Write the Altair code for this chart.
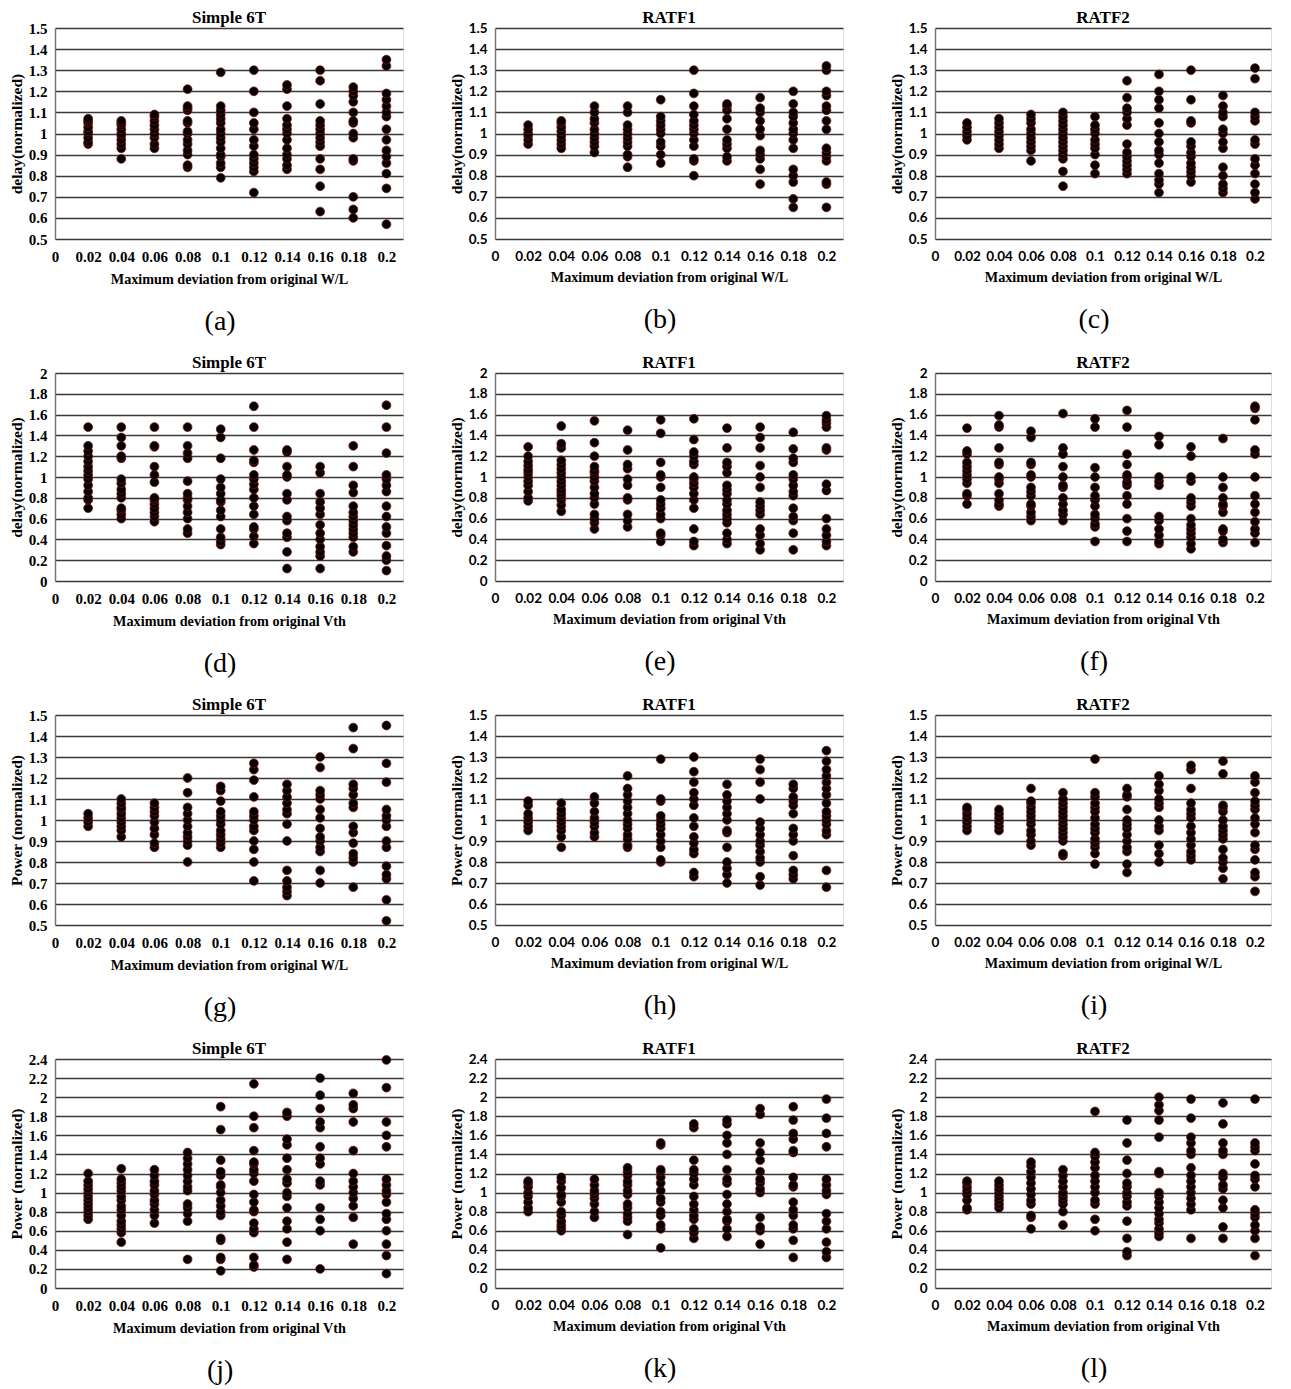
import altair as alt
import pandas as pd

X_VALUES = [0.02, 0.04, 0.06, 0.08, 0.1, 0.12, 0.14, 0.16, 0.18, 0.2]
X_TICKS = [0, 0.02, 0.04, 0.06, 0.08, 0.1, 0.12, 0.14, 0.16, 0.18, 0.2]
Y_TICKS_WL = [0.5, 0.6, 0.7, 0.8, 0.9, 1.0, 1.1, 1.2, 1.3, 1.4, 1.5]
Y_TICKS_VTH_DELAY = [0, 0.2, 0.4, 0.6, 0.8, 1.0, 1.2, 1.4, 1.6, 1.8, 2.0]
Y_TICKS_VTH_POWER = [0, 0.2, 0.4, 0.6, 0.8, 1.0, 1.2, 1.4, 1.6, 1.8, 2.0, 2.2, 2.4]

# (a) delay vs W/L, Simple 6T
panel_a = [
    [0.95, 0.96, 0.98, 1.0, 1.01, 1.03, 1.05, 1.06, 1.07],
    [0.88, 0.93, 0.95, 0.97, 0.99, 1.0, 1.02, 1.04, 1.05, 1.06],
    [0.93, 0.95, 0.98, 1.0, 1.02, 1.04, 1.06, 1.08, 1.09],
    [0.84, 0.85, 0.90, 0.92, 0.95, 0.97, 1.0, 1.01, 1.05, 1.06, 1.11, 1.12, 1.13, 1.21],
    [0.79, 0.84, 0.86, 0.89, 0.90, 0.93, 0.96, 0.98, 1.0, 1.02, 1.05, 1.07, 1.09, 1.11, 1.13, 1.29],
    [0.72, 0.82, 0.84, 0.86, 0.88, 0.90, 0.94, 0.97, 1.02, 1.05, 1.10, 1.20, 1.30],
    [0.83, 0.85, 0.88, 0.90, 0.93, 0.97, 1.0, 1.02, 1.04, 1.07, 1.13, 1.21, 1.23],
    [0.63, 0.75, 0.83, 0.88, 0.94, 0.96, 0.98, 1.0, 1.02, 1.04, 1.06, 1.14, 1.25, 1.30],
    [0.60, 0.64, 0.70, 0.87, 0.88, 0.98, 1.0, 1.05, 1.06, 1.10, 1.15, 1.18, 1.20, 1.22],
    [0.57, 0.74, 0.81, 0.86, 0.89, 0.92, 0.97, 1.02, 1.08, 1.10, 1.13, 1.16, 1.19, 1.32, 1.35],
]
# (b) delay vs W/L, RATF1
panel_b = [
    [0.95, 0.97, 0.99, 1.0, 1.02, 1.04],
    [0.93, 0.95, 0.97, 0.99, 1.01, 1.03, 1.05, 1.06],
    [0.91, 0.94, 0.96, 0.98, 1.0, 1.02, 1.05, 1.07, 1.10, 1.13],
    [0.84, 0.89, 0.90, 0.94, 0.96, 0.98, 1.0, 1.02, 1.04, 1.10, 1.13],
    [0.86, 0.90, 0.94, 0.96, 1.0, 1.02, 1.04, 1.06, 1.08, 1.16],
    [0.80, 0.87, 0.88, 0.94, 0.97, 1.0, 1.02, 1.04, 1.06, 1.09, 1.13, 1.19, 1.30],
    [0.87, 0.89, 0.93, 0.95, 0.97, 1.02, 1.07, 1.11, 1.13, 1.14],
    [0.76, 0.83, 0.88, 0.90, 0.92, 0.99, 1.02, 1.06, 1.10, 1.12, 1.17],
    [0.65, 0.69, 0.77, 0.80, 0.83, 0.93, 0.97, 1.0, 1.02, 1.05, 1.08, 1.10, 1.14, 1.20],
    [0.65, 0.76, 0.77, 0.87, 0.89, 0.91, 0.93, 1.02, 1.06, 1.11, 1.13, 1.18, 1.20, 1.30, 1.32],
]
# (c) delay vs W/L, RATF2
panel_c = [
    [0.97, 0.99, 1.01, 1.03, 1.05],
    [0.93, 0.95, 0.97, 0.99, 1.01, 1.03, 1.05, 1.07],
    [0.87, 0.92, 0.94, 0.96, 0.98, 1.0, 1.02, 1.05, 1.07, 1.09],
    [0.75, 0.82, 0.88, 0.90, 0.92, 0.94, 0.96, 0.98, 1.0, 1.02, 1.04, 1.06, 1.08, 1.10],
    [0.81, 0.85, 0.90, 0.93, 0.95, 0.97, 1.0, 1.02, 1.04, 1.08],
    [0.81, 0.83, 0.85, 0.87, 0.89, 0.91, 0.95, 1.04, 1.07, 1.10, 1.12, 1.17, 1.25],
    [0.72, 0.76, 0.78, 0.81, 0.86, 0.90, 0.92, 0.96, 1.0, 1.05, 1.12, 1.16, 1.20, 1.28],
    [0.77, 0.80, 0.82, 0.84, 0.86, 0.89, 0.91, 0.94, 0.96, 1.05, 1.06, 1.16, 1.30],
    [0.72, 0.74, 0.76, 0.80, 0.84, 0.93, 0.96, 1.0, 1.02, 1.08, 1.10, 1.13, 1.18],
    [0.69, 0.72, 0.76, 0.81, 0.85, 0.88, 0.95, 0.97, 1.06, 1.08, 1.10, 1.26, 1.31],
]
# (d) delay vs Vth, Simple 6T
panel_d = [
    [0.70, 0.78, 0.80, 0.86, 0.92, 0.98, 1.02, 1.06, 1.10, 1.15, 1.20, 1.25, 1.30, 1.48],
    [0.60, 0.64, 0.68, 0.70, 0.80, 0.84, 0.88, 0.94, 0.98, 1.18, 1.20, 1.30, 1.38, 1.48],
    [0.57, 0.62, 0.66, 0.70, 0.74, 0.78, 0.80, 0.95, 1.02, 1.10, 1.29, 1.30, 1.48],
    [0.46, 0.50, 0.60, 0.66, 0.72, 0.78, 0.80, 0.84, 0.96, 1.18, 1.23, 1.30, 1.48],
    [0.35, 0.38, 0.42, 0.50, 0.62, 0.68, 0.76, 0.78, 0.84, 0.90, 0.98, 1.18, 1.38, 1.46],
    [0.36, 0.43, 0.50, 0.52, 0.64, 0.72, 0.80, 0.88, 0.93, 0.98, 1.02, 1.14, 1.16, 1.26, 1.48, 1.68],
    [0.12, 0.28, 0.42, 0.46, 0.58, 0.62, 0.78, 0.84, 1.00, 1.02, 1.10, 1.24, 1.26],
    [0.12, 0.24, 0.28, 0.33, 0.40, 0.46, 0.54, 0.64, 0.70, 0.76, 0.84, 1.04, 1.10],
    [0.28, 0.33, 0.42, 0.46, 0.50, 0.54, 0.58, 0.62, 0.66, 0.72, 0.85, 0.92, 1.10, 1.30],
    [0.10, 0.20, 0.24, 0.34, 0.46, 0.52, 0.62, 0.72, 0.86, 0.92, 0.98, 1.02, 1.23, 1.48, 1.69],
]
# (e) delay vs Vth, RATF1
panel_e = [
    [0.77, 0.80, 0.86, 0.92, 0.96, 1.0, 1.04, 1.07, 1.11, 1.15, 1.20, 1.29],
    [0.67, 0.73, 0.78, 0.82, 0.85, 0.88, 0.92, 0.96, 1.0, 1.04, 1.08, 1.12, 1.16, 1.28, 1.32, 1.49],
    [0.50, 0.56, 0.60, 0.64, 0.74, 0.80, 0.84, 0.90, 0.96, 1.00, 1.04, 1.06, 1.10, 1.20, 1.33, 1.54],
    [0.52, 0.58, 0.64, 0.78, 0.80, 0.92, 0.98, 1.08, 1.12, 1.26, 1.45],
    [0.38, 0.44, 0.46, 0.60, 0.64, 0.70, 0.74, 0.78, 0.90, 1.0, 1.02, 1.14, 1.42, 1.55],
    [0.34, 0.38, 0.50, 0.70, 0.78, 0.84, 0.90, 0.94, 0.98, 1.0, 1.12, 1.15, 1.20, 1.24, 1.36, 1.56],
    [0.36, 0.40, 0.46, 0.56, 0.60, 0.64, 0.68, 0.74, 0.78, 0.84, 0.88, 0.92, 1.04, 1.10, 1.14, 1.28, 1.47],
    [0.30, 0.36, 0.44, 0.50, 0.64, 0.68, 0.72, 0.76, 0.90, 1.0, 1.11, 1.28, 1.38, 1.48],
    [0.30, 0.46, 0.58, 0.62, 0.70, 0.82, 0.86, 0.92, 0.98, 1.02, 1.14, 1.18, 1.27, 1.43],
    [0.34, 0.38, 0.44, 0.50, 0.60, 0.87, 0.93, 1.26, 1.28, 1.48, 1.52, 1.55, 1.59],
]
# (f) delay vs Vth, RATF2
panel_f = [
    [0.74, 0.82, 0.84, 0.94, 0.98, 1.02, 1.06, 1.10, 1.14, 1.22, 1.25, 1.47],
    [0.72, 0.74, 0.78, 0.84, 0.94, 0.98, 1.0, 1.12, 1.14, 1.28, 1.48, 1.50, 1.59],
    [0.58, 0.62, 0.66, 0.72, 0.74, 0.82, 0.86, 0.90, 1.0, 1.02, 1.12, 1.14, 1.38, 1.44],
    [0.58, 0.64, 0.68, 0.74, 0.80, 0.90, 0.92, 1.0, 1.10, 1.22, 1.28, 1.61],
    [0.38, 0.52, 0.55, 0.60, 0.64, 0.72, 0.78, 0.82, 0.90, 1.0, 1.09, 1.48, 1.56],
    [0.38, 0.48, 0.60, 0.74, 0.82, 0.92, 0.95, 1.0, 1.02, 1.12, 1.22, 1.48, 1.64],
    [0.36, 0.38, 0.44, 0.50, 0.58, 0.62, 0.92, 0.96, 1.0, 1.31, 1.39],
    [0.31, 0.36, 0.42, 0.46, 0.50, 0.54, 0.60, 0.72, 0.76, 0.80, 0.96, 1.0, 1.20, 1.29],
    [0.37, 0.40, 0.48, 0.50, 0.66, 0.72, 0.74, 0.80, 0.90, 1.0, 1.37],
    [0.37, 0.46, 0.50, 0.57, 0.66, 0.74, 0.82, 1.0, 1.22, 1.26, 1.55, 1.66, 1.68],
]
# (g) power vs W/L, Simple 6T
panel_g = [
    [0.97, 0.99, 1.01, 1.03],
    [0.92, 0.95, 0.97, 0.99, 1.01, 1.03, 1.05, 1.06, 1.08, 1.10],
    [0.87, 0.89, 0.93, 0.96, 0.99, 1.02, 1.04, 1.06, 1.08],
    [0.80, 0.88, 0.90, 0.92, 0.94, 0.97, 1.0, 1.03, 1.06, 1.13, 1.20],
    [0.87, 0.89, 0.91, 0.93, 0.95, 0.98, 1.0, 1.02, 1.04, 1.09, 1.14, 1.16],
    [0.71, 0.80, 0.86, 0.90, 0.95, 0.97, 1.0, 1.02, 1.04, 1.11, 1.19, 1.24, 1.27],
    [0.64, 0.66, 0.68, 0.71, 0.76, 0.90, 0.98, 1.03, 1.05, 1.08, 1.11, 1.14, 1.17],
    [0.70, 0.76, 0.85, 0.87, 0.90, 0.92, 0.96, 1.01, 1.05, 1.10, 1.12, 1.14, 1.25, 1.30],
    [0.68, 0.80, 0.82, 0.84, 0.89, 0.94, 0.97, 1.06, 1.08, 1.12, 1.15, 1.17, 1.34, 1.44],
    [0.52, 0.62, 0.72, 0.74, 0.78, 0.87, 0.90, 0.97, 1.0, 1.02, 1.05, 1.18, 1.27, 1.45],
]
# (h) power vs W/L, RATF1
panel_h = [
    [0.95, 0.97, 0.99, 1.01, 1.03, 1.07, 1.09],
    [0.87, 0.92, 0.95, 0.97, 0.99, 1.01, 1.03, 1.05, 1.08],
    [0.92, 0.94, 0.97, 0.99, 1.01, 1.04, 1.08, 1.11],
    [0.87, 0.88, 0.91, 0.93, 0.96, 0.98, 1.0, 1.03, 1.06, 1.09, 1.12, 1.15, 1.21],
    [0.80, 0.81, 0.87, 0.90, 0.93, 0.96, 0.98, 1.0, 1.02, 1.09, 1.10, 1.29],
    [0.73, 0.75, 0.84, 0.86, 0.89, 0.92, 0.97, 1.01, 1.07, 1.10, 1.13, 1.18, 1.23, 1.30],
    [0.70, 0.74, 0.77, 0.80, 0.87, 0.94, 0.95, 1.0, 1.03, 1.06, 1.09, 1.12, 1.17],
    [0.69, 0.73, 0.80, 0.82, 0.85, 0.88, 0.90, 0.93, 0.96, 0.99, 1.10, 1.18, 1.24, 1.29],
    [0.72, 0.74, 0.76, 0.83, 0.90, 0.93, 0.96, 1.03, 1.07, 1.09, 1.11, 1.15, 1.17],
    [0.68, 0.76, 0.93, 0.95, 0.98, 1.0, 1.02, 1.04, 1.08, 1.12, 1.15, 1.18, 1.21, 1.24, 1.28, 1.33],
]
# (i) power vs W/L, RATF2
panel_i = [
    [0.95, 0.97, 0.99, 1.01, 1.03, 1.05, 1.06],
    [0.95, 0.97, 0.99, 1.01, 1.03, 1.05],
    [0.88, 0.90, 0.93, 0.95, 0.98, 1.0, 1.02, 1.04, 1.06, 1.08, 1.09, 1.15],
    [0.83, 0.84, 0.90, 0.92, 0.94, 0.96, 0.98, 1.0, 1.02, 1.04, 1.06, 1.08, 1.10, 1.13],
    [0.79, 0.84, 0.87, 0.89, 0.91, 0.94, 0.96, 0.98, 1.01, 1.04, 1.06, 1.08, 1.11, 1.13, 1.29],
    [0.75, 0.79, 0.85, 0.87, 0.90, 0.93, 0.96, 0.98, 1.0, 1.05, 1.11, 1.12, 1.15],
    [0.80, 0.84, 0.88, 0.95, 0.97, 1.0, 1.06, 1.08, 1.10, 1.14, 1.17, 1.21],
    [0.81, 0.83, 0.85, 0.88, 0.91, 0.94, 0.97, 1.01, 1.03, 1.05, 1.08, 1.15, 1.24, 1.26],
    [0.72, 0.77, 0.80, 0.82, 0.86, 0.91, 0.93, 0.95, 0.97, 1.0, 1.04, 1.06, 1.07, 1.22, 1.28],
    [0.66, 0.73, 0.75, 0.81, 0.86, 0.88, 0.94, 0.98, 1.01, 1.05, 1.07, 1.09, 1.13, 1.18, 1.21],
]
# (j) power vs Vth, Simple 6T
panel_j = [
    [0.72, 0.76, 0.80, 0.84, 0.88, 0.92, 0.96, 1.0, 1.04, 1.08, 1.12, 1.20],
    [0.48, 0.58, 0.62, 0.66, 0.70, 0.76, 0.82, 0.86, 0.92, 0.96, 1.02, 1.06, 1.10, 1.14, 1.25],
    [0.68, 0.76, 0.82, 0.88, 0.92, 0.98, 1.02, 1.08, 1.12, 1.18, 1.24],
    [0.30, 0.70, 0.78, 0.84, 0.88, 1.02, 1.06, 1.12, 1.18, 1.24, 1.30, 1.36, 1.42],
    [0.18, 0.30, 0.32, 0.50, 0.52, 0.76, 0.80, 0.86, 0.92, 1.00, 1.06, 1.08, 1.18, 1.22, 1.34, 1.66, 1.90],
    [0.22, 0.24, 0.32, 0.58, 0.62, 0.68, 0.80, 0.82, 0.90, 0.98, 1.12, 1.20, 1.24, 1.30, 1.32, 1.44, 1.68, 1.80, 2.14],
    [0.30, 0.48, 0.62, 0.70, 0.84, 0.96, 1.00, 1.10, 1.14, 1.24, 1.36, 1.50, 1.56, 1.80, 1.84],
    [0.20, 0.60, 0.72, 0.84, 1.08, 1.12, 1.30, 1.36, 1.48, 1.68, 1.74, 1.88, 2.02, 2.20],
    [0.46, 0.74, 0.86, 0.94, 1.00, 1.06, 1.12, 1.20, 1.44, 1.74, 1.88, 1.92, 2.04],
    [0.15, 0.34, 0.46, 0.60, 0.72, 0.78, 0.90, 0.98, 1.02, 1.08, 1.14, 1.48, 1.60, 1.74, 2.10, 2.39],
]
# (k) power vs Vth, RATF1
panel_k = [
    [0.80, 0.84, 0.90, 0.96, 1.00, 1.06, 1.10, 1.12],
    [0.60, 0.63, 0.66, 0.70, 0.76, 0.80, 0.90, 0.96, 0.98, 1.05, 1.12, 1.16],
    [0.74, 0.80, 0.88, 0.94, 0.98, 1.02, 1.08, 1.14],
    [0.56, 0.70, 0.74, 0.78, 0.84, 0.88, 0.98, 1.02, 1.08, 1.12, 1.18, 1.22, 1.26],
    [0.42, 0.62, 0.66, 0.76, 0.80, 0.90, 0.94, 1.02, 1.10, 1.16, 1.22, 1.24, 1.50, 1.52],
    [0.52, 0.58, 0.62, 0.72, 0.76, 0.82, 0.88, 0.96, 1.08, 1.14, 1.20, 1.24, 1.34, 1.68, 1.72],
    [0.54, 0.62, 0.70, 0.72, 0.80, 0.88, 0.98, 1.10, 1.14, 1.24, 1.40, 1.52, 1.60, 1.72, 1.76],
    [0.46, 0.60, 0.64, 0.74, 1.00, 1.04, 1.10, 1.14, 1.22, 1.34, 1.42, 1.52, 1.82, 1.88],
    [0.32, 0.50, 0.62, 0.66, 0.76, 0.82, 0.90, 1.06, 1.08, 1.16, 1.42, 1.44, 1.56, 1.62, 1.76, 1.90],
    [0.32, 0.38, 0.48, 0.62, 0.70, 0.78, 0.98, 1.02, 1.08, 1.14, 1.48, 1.62, 1.78, 1.98],
]
# (l) power vs Vth, RATF2
panel_l = [
    [0.82, 0.84, 0.92, 0.98, 1.02, 1.06, 1.10, 1.12],
    [0.84, 0.88, 0.92, 0.96, 1.0, 1.04, 1.08, 1.12],
    [0.62, 0.74, 0.76, 0.88, 0.92, 0.98, 1.04, 1.10, 1.16, 1.22, 1.28, 1.32],
    [0.66, 0.80, 0.88, 0.92, 0.96, 1.00, 1.06, 1.12, 1.18, 1.24],
    [0.60, 0.72, 0.88, 0.92, 1.00, 1.06, 1.12, 1.18, 1.26, 1.32, 1.38, 1.42, 1.85],
    [0.34, 0.38, 0.52, 0.70, 0.86, 0.90, 0.96, 1.00, 1.06, 1.10, 1.20, 1.34, 1.52, 1.76],
    [0.54, 0.58, 0.62, 0.68, 0.72, 0.78, 0.84, 0.90, 0.96, 1.00, 1.20, 1.22, 1.58, 1.76, 1.86, 1.92, 2.00],
    [0.52, 0.82, 0.88, 0.94, 1.00, 1.06, 1.12, 1.18, 1.26, 1.40, 1.44, 1.52, 1.58, 1.78, 1.98],
    [0.52, 0.64, 0.84, 0.92, 1.04, 1.08, 1.16, 1.20, 1.40, 1.44, 1.52, 1.72, 1.94],
    [0.34, 0.52, 0.60, 0.66, 0.74, 0.78, 0.82, 1.06, 1.14, 1.18, 1.30, 1.44, 1.48, 1.52, 1.98],
]

TITLES = ["Simple 6T", "RATF1", "RATF2"]
LETTERS = ["(a)", "(b)", "(c)", "(d)", "(e)", "(f)", "(g)", "(h)", "(i)", "(j)", "(k)", "(l)"]
X_TITLES = ["Maximum deviation from original W/L", "Maximum deviation from original Vth",
            "Maximum deviation from original W/L", "Maximum deviation from original Vth"]
Y_TITLES = ["delay(normalized)", "delay(normalized)", "Power (normalized)", "Power (normalized)"]
Y_TICKS = [Y_TICKS_WL, Y_TICKS_VTH_DELAY, Y_TICKS_WL, Y_TICKS_VTH_POWER]
PANELS = [[panel_a, panel_b, panel_c], [panel_d, panel_e, panel_f],
          [panel_g, panel_h, panel_i], [panel_j, panel_k, panel_l]]
ROW_HEIGHTS = [211, 208, 210, 229]
COL_WIDTHS = [348, 348, 336]

SERIF = "Liberation Serif"
SANS = "Lato"


def make_panel(cols, r, c):
    xs, ys = [], []
    for xv, vals in zip(X_VALUES, cols):
        for v in vals:
            xs.append(xv)
            ys.append(v)
    df = pd.DataFrame({"x": xs, "y": ys})
    ticks = Y_TICKS[r]
    label_font = SERIF if c == 0 else SANS
    label_size = 15 if c == 0 else 13.5
    chart = alt.Chart(df).mark_circle(size=78, color="#000000", opacity=1,
                                      stroke="#7a1414", strokeWidth=0.8).encode(
        x=alt.X("x:Q",
                scale=alt.Scale(domain=[0, 0.21], nice=False, zero=True),
                axis=alt.Axis(values=X_TICKS, format="~g", grid=False, domain=False,
                              ticks=False, labelPadding=10, labelFont=label_font,
                              labelFontSize=label_size, labelFontWeight="bold",
                              labelColor="#000", labelFlush=False, labelOverlap=False,
                              title=X_TITLES[r], titleFont=SERIF, titleFontSize=14.2,
                              titleFontWeight="bold", titleColor="#000", titlePadding=8)),
        y=alt.Y("y:Q",
                scale=alt.Scale(domain=[ticks[0], ticks[-1]], nice=False, zero=False),
                axis=alt.Axis(values=ticks, format="~g", grid=True, gridColor="#383838",
                              gridWidth=1.7, domain=True, domainColor="#777",
                              domainWidth=1.5, ticks=False, labelPadding=8,
                              labelFont=label_font, labelFontSize=label_size,
                              labelFontWeight="bold", labelColor="#000",
                              labelFlush=False, labelOverlap=False,
                              title=Y_TITLES[r], titleFont=SERIF, titleFontSize=15.5,
                              titleFontWeight="bold", titleColor="#000", titlePadding=4)),
    ).properties(
        width=COL_WIDTHS[c], height=ROW_HEIGHTS[r],
        title=alt.TitleParams(TITLES[c], font=SERIF, fontSize=17, fontWeight="bold",
                              color="#000", offset=-6, anchor="middle", frame="group"),
    )
    return alt.vconcat(
        chart,
        title=alt.TitleParams(LETTERS[r * 3 + c], orient="bottom", anchor="middle",
                              font=SERIF, fontSize=28, fontWeight="normal", color="#000",
                              offset=21, dx=14),
    )


rows = []
for r in range(4):
    rows.append(alt.hconcat(*[make_panel(PANELS[r][c], r, c) for c in range(3)], spacing=44))

chart = alt.vconcat(*rows, spacing=17).configure_view(strokeWidth=0).configure(
    background="white", padding=0)

chart.save("out.html", embed_options={"renderer": "svg", "actions": False})
